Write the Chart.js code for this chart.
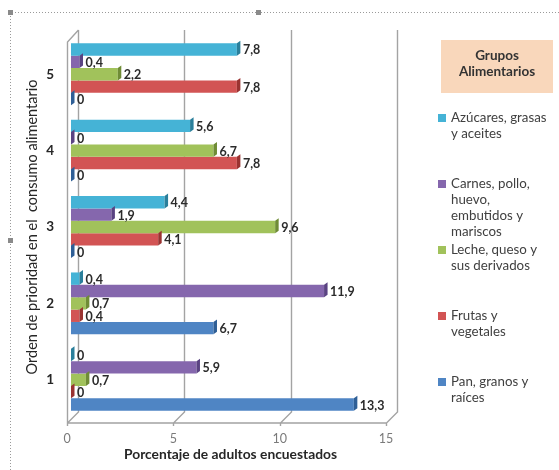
<!DOCTYPE html>
<html lang="es">
<head>
<meta charset="UTF-8">
<title>Grupos alimentarios</title>
<script src="https://cdn.jsdelivr.net/npm/chart.js"></script>
<style>
  html, body { margin: 0; padding: 0; background: #fff; }
  #contenedor { width: 559px; height: 470px; position: relative; }
</style>
</head>
<body>
<div id="contenedor">
  <canvas id="grafico" width="559" height="470"></canvas>
</div>
<script>
// datos (orden de categorias de arriba a abajo)
const prioridades = ['5', '4', '3', '2', '1'];
const grupos = [
  ['Azúcares, grasas', 'y aceites'],
  ['Carnes, pollo,', 'huevo,', 'embutidos y', 'mariscos'],
  ['Leche, queso y', 'sus derivados'],
  ['Frutas y', 'vegetales'],
  ['Pan, granos y', 'raíces']
];
const azucares = [7.8, 5.6, 4.4, 0.4, 0];
const carnes = [0.4, 0, 1.9, 11.9, 5.9];
const leche = [2.2, 6.7, 9.6, 0.7, 0.7];
const frutas = [7.8, 7.8, 4.1, 0.4, 0];
const pan = [0, 0, 0, 6.7, 13.3];
const ticksX = [0, 5, 10, 15];

const colores = ['#45b3d6', '#8567ad', '#a1c25b', '#d25454', '#4f85c4'];
const oscuros = ['#2a7f9b', '#5a4382', '#6f8c36', '#9a3331', '#2f5f96'];
const series = [azucares, carnes, leche, frutas, pan];

Chart.defaults.font.family = "Lato, 'Open Sans', sans-serif";

// marco punteado y leyenda con titulo
const marco = {
  id: 'marco',
  beforeDraw(chart) {
    const c = chart.ctx;
    c.save();
    c.strokeStyle = '#9a9a9a';
    c.lineWidth = 1;
    c.setLineDash([1, 2]);
    c.beginPath();
    c.moveTo(10.5, 470);
    c.lineTo(10.5, 12.5);
    c.lineTo(559, 12.5);
    c.stroke();
    c.setLineDash([]);
    c.fillStyle = '#8a8a8a';
    [[8, 10], [256, 10], [8, 238]].forEach(p => c.fillRect(p[0], p[1], 5, 5));
    c.restore();
  },
  afterDraw(chart) {
    const c = chart.ctx;
    c.save();
    // caja de titulo
    c.fillStyle = '#f9d7bb';
    c.fillRect(441, 40, 112, 53);
    c.fillStyle = '#333';
    c.font = "bold 13.5px Lato, 'Open Sans', sans-serif";
    c.textAlign = 'center';
    c.textBaseline = 'middle';
    c.fillText('Grupos', 497, 56);
    c.fillText('Alimentarios', 497, 72);
    // elementos de la leyenda
    c.textAlign = 'left';
    c.font = "13.3px Lato, 'Open Sans', sans-serif";
    chart.data.datasets.forEach((ds, i) => {
      const y = 118 + i * 66;
      c.fillStyle = ds.backgroundColor;
      c.fillRect(438, y - 4, 8, 8);
      c.fillStyle = '#404040';
      ds.etiquetaLineas.forEach((linea, k) => c.fillText(linea, 451, y + k * 16));
    });
    c.restore();
  }
};

// paredes y piso en perspectiva
const piso3d = {
  id: 'piso3d',
  beforeDatasetsDraw(chart) {
    const c = chart.ctx;
    const s = chart.scales.x;
    const a = chart.chartArea;
    const atras = a.bottom - 6, frente = a.bottom + 5, alto = a.top - 6;
    c.save();
    c.strokeStyle = '#a3a3a3';
    c.lineWidth = 1.4;
    c.beginPath();
    ticksX.forEach(v => {
      const px = Math.round(s.getPixelForValue(v)) + 0.5;
      c.moveTo(px + 7, alto);
      c.lineTo(px + 7, atras);
      c.lineTo(px - 4, frente);
      c.lineTo(px - 4, frente + 3);
    });
    const x0 = Math.round(s.getPixelForValue(0)) + 0.5;
    const x15 = Math.round(s.getPixelForValue(15)) + 0.5;
    c.moveTo(x0 - 4, frente);
    c.lineTo(x15 - 4, frente);
    c.moveTo(x0 - 4, frente);
    c.lineTo(x0 - 4, alto + 12);
    c.lineTo(x0 + 7, alto);
    c.stroke();
    c.restore();
  }
};

// extremo 3D de las barras y etiquetas de valor
const barras3d = {
  id: 'barras3d',
  afterDatasetsDraw(chart) {
    const c = chart.ctx;
    c.save();
    chart.data.datasets.forEach((ds, i) => {
      const meta = chart.getDatasetMeta(i);
      meta.data.forEach((el, j) => {
        const arriba = el.y - el.height / 2;
        const abajo = el.y + el.height / 2;
        const x = el.x;
        c.fillStyle = ds.colorOscuro;
        c.beginPath();
        c.moveTo(x, arriba);
        c.lineTo(x + 3.5, arriba - 2.5);
        c.lineTo(x + 3.5, abajo - 2.5);
        c.lineTo(x, abajo);
        c.closePath();
        c.fill();
        c.fillStyle = '#2b2b2b';
        c.font = "bold 12.5px Lato, 'Open Sans', sans-serif";
        c.textAlign = 'left';
        c.textBaseline = 'middle';
        const txt = String(ds.data[j]).replace('.', ',');
        c.fillText(txt, x + 6, el.y + 1);
      });
    });
    c.restore();
  }
};

new Chart(document.getElementById('grafico'), {
  type: 'bar',
  data: {
    labels: prioridades,
    datasets: series.map((d, i) => ({
      label: grupos[i].join(' '),
      etiquetaLineas: grupos[i],
      data: d,
      backgroundColor: colores[i],
      colorOscuro: oscuros[i],
      borderWidth: 0,
      barPercentage: 1,
      categoryPercentage: 0.81
    }))
  },
  options: {
    indexAxis: 'y',
    responsive: false,
    animation: false,
    layout: { padding: { top: 36, left: 20, right: 169, bottom: 3 } },
    plugins: {
      legend: { display: false },
      tooltip: { enabled: false }
    },
    scales: {
      x: {
        min: 0,
        max: 15,
        afterBuildTicks: s => { s.ticks = ticksX.map(v => ({ value: v })); },
        afterFit: s => { s.height = 49; },
        grid: { display: false, drawTicks: false },
        border: { display: false },
        ticks: { color: '#7a7a7a', font: { size: 12.5 }, padding: 13, labelOffset: -4 },
        title: {
          display: true,
          text: 'Porcentaje de adultos encuestados',
          color: '#262626',
          font: { size: 13.8, weight: 'bold' },
          padding: { top: 2, bottom: 4 }
        }
      },
      y: {
        afterFit: s => { s.width = 51; },
        grid: { display: false, drawTicks: false },
        border: { display: false },
        ticks: { color: '#262626', font: { size: 13.5, weight: 'bold' }, padding: 17 },
        title: {
          display: true,
          text: 'Orden de prioridad en el  consumo alimentario',
          color: '#262626',
          font: { size: 14.5 },
          padding: { top: 4, bottom: 4 }
        }
      }
    }
  },
  plugins: [marco, piso3d, barras3d]
});
</script>
</body>
</html>
